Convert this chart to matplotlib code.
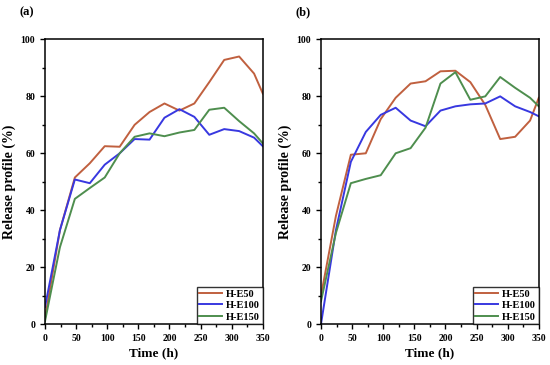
import numpy as np
import matplotlib
matplotlib.use('agg')
import matplotlib.pyplot as plt
from matplotlib.ticker import MultipleLocator

plt.rcParams['font.family'] = ['Liberation Serif', 'DejaVu Serif']
plt.rcParams['font.weight'] = 'bold'

time_h = [0, 24, 48, 72, 96, 120, 144, 168, 192, 216, 240, 264, 288, 312, 336, 350]

# panel (a)
a_e50 = [2, 33, 51.5, 56.5, 62.5, 62.3, 70, 74.5, 77.5, 75, 77.5, 85, 92.8, 94, 88, 81]
a_e100 = [6, 33, 50.8, 49.5, 56, 60, 65, 64.8, 72.5, 75.5, 72.8, 66.5, 68.5, 67.8, 65.5, 62.5]
a_e150 = [1, 27, 44, 47.8, 51.5, 60, 65.8, 67, 66, 67.3, 68.2, 75.3, 76, 71.3, 67, 63.5]

# panel (b)
b_e50 = [10, 38, 59.5, 60, 72, 79.5, 84.5, 85.3, 88.8, 89, 85, 77, 65, 65.8, 71.5, 79.5]
b_e100 = [0, 33, 57, 67.5, 73.5, 76, 71.5, 69.5, 75, 76.5, 77.2, 77.5, 80, 76.5, 74.5, 73]
b_e150 = [8, 32, 49.5, 51, 52.3, 60, 61.8, 69, 84.5, 88.5, 78.8, 80, 86.8, 83, 79.5, 76.5]

names = ['H-E50', 'H-E100', 'H-E150']
colors = ['#c0603f', '#3838e0', '#4e8e4e']

fig = plt.figure(figsize=(5.5, 3.65), dpi=100)
ax_a = fig.add_axes([0.0818, 0.112, 0.396, 0.78])
ax_b = fig.add_axes([0.5836, 0.112, 0.396, 0.78])

for ax, series, tag in [(ax_a, [a_e50, a_e100, a_e150], '(a)'),
                        (ax_b, [b_e50, b_e100, b_e150], '(b)')]:
    for vals, name, c in zip(series, names, colors):
        ax.plot(time_h, vals, color=c, lw=1.4, label=name)
    ax.set_xlim(0, 350)
    ax.set_ylim(0, 100)
    ax.xaxis.set_major_locator(MultipleLocator(50))
    ax.xaxis.set_minor_locator(MultipleLocator(25))
    ax.yaxis.set_major_locator(MultipleLocator(20))
    ax.yaxis.set_minor_locator(MultipleLocator(10))
    ax.tick_params(which='both', direction='out', top=False, right=False,
                   labelsize=7, width=1)
    ax.tick_params(which='major', length=3.5)
    ax.tick_params(which='minor', length=2)
    for sp in ax.spines.values():
        sp.set_linewidth(1.1)
    ax.set_xlabel('Time (h)', fontsize=9.5, fontweight='bold', labelpad=3)
    ax.set_ylabel('Release profile (%)', fontsize=10, fontweight='bold', labelpad=3)
    leg = ax.legend(loc='lower right', fontsize=7.5, frameon=True, fancybox=False,
                    borderaxespad=0, handlelength=2.2, labelspacing=0.2,
                    borderpad=0.25, handletextpad=0.4)
    leg.get_frame().set_edgecolor('black')
    leg.get_frame().set_linewidth(1.0)
    pos = ax.get_position()
    fig.text(pos.x0 - 0.033, 0.965, tag, fontsize=9, fontweight='bold',
             ha='center', va='center')

fig.savefig('out.png', dpi=100)
